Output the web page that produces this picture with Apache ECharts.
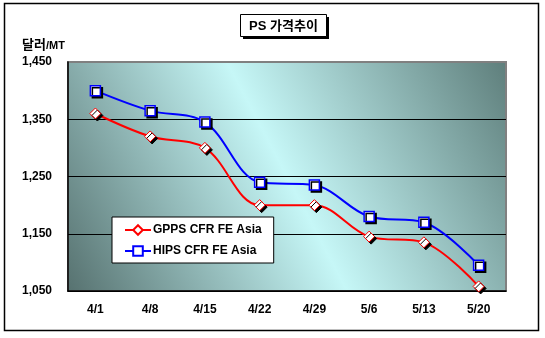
<!DOCTYPE html>
<html><head><meta charset="utf-8">
<script src="https://cdn.jsdelivr.net/npm/echarts@6/dist/echarts.min.js"></script>
<style>html,body{margin:0;padding:0;background:#fff}#c{width:545px;height:338px}</style>
</head><body><div id="c"></div>
<script>
var categories = ['4/1','4/8','4/15','4/22','4/29','5/6','5/13','5/20'];
var gpps = [1360, 1320, 1300, 1200, 1200, 1145, 1135, 1058];
var hips = [1400, 1365, 1345, 1240, 1235, 1180, 1170, 1095];
var seriesNames = ['GPPS CFR FE Asia', 'HIPS CFR FE Asia'];
var yTicks = [1050, 1150, 1250, 1350, 1450];

var chart = echarts.init(document.getElementById('c'));
var font = 'Arial, "Liberation Sans", "Noto Sans CJK KR", sans-serif';
var markerShadow = {shadowColor:'#000', shadowOffsetX:2, shadowOffsetY:2, shadowBlur:0};
chart.setOption({
  animation:false,
  textStyle:{fontFamily:font},
  graphic:[
    {type:'rect', shape:{x:4.5,y:3.5,width:534,height:327}, style:{fill:'none',stroke:'#000',lineWidth:1.5}, z:-1},
    {type:'rect', shape:{x:243,y:17,width:86,height:22}, style:{fill:'#000'}, z:1},
    {type:'rect', shape:{x:240.5,y:14.5,width:86,height:22}, style:{fill:'#fff',stroke:'#000',lineWidth:1}, z:2},
    {type:'text', x:283.5, y:26, style:{text:'PS 가격추이', fill:'#000', font:'bold 13px ' + font, align:'center', verticalAlign:'middle'}, z:3}
  ],
  grid:{left:68, right:39, top:62, bottom:47, show:true, borderColor:'#808080', borderWidth:2,
    backgroundColor:{type:'linear', x:0, y:1, x2:1, y2:0, colorStops:[
      {offset:0, color:'#56716f'},
      {offset:0.5, color:'#c6f7f7'},
      {offset:1, color:'#5e7e7b'}]}},
  legend:{
    orient:'vertical', left:112, top:217,
    backgroundColor:'#fff', borderColor:'#000', borderWidth:1,
    padding:[7,12,6,12], itemWidth:26, itemHeight:12, itemGap:9,
    textStyle:{fontFamily:font, fontWeight:'bold', fontSize:12, color:'#000', padding:[0,0,0,-3]},
    data:seriesNames
  },
  xAxis:{type:'category', data:categories, boundaryGap:true,
    axisLine:{lineStyle:{color:'#000', width:1.5}},
    axisTick:{inside:true, length:4, lineStyle:{color:'#000'}},
    axisLabel:{color:'#000', fontWeight:'bold', fontSize:12, margin:13, fontFamily:font}},
  yAxis:{type:'value', min:1050, max:1450, interval:100,
    name:'{a|달러}{b|/MT}', nameLocation:'end', nameGap:10,
    nameTextStyle:{align:'left', padding:[0,0,0,-46], rich:{
      a:{fontSize:13, fontWeight:'bold', color:'#000', fontFamily:font},
      b:{fontSize:11, fontWeight:'bold', color:'#000', fontFamily:font}}},
    axisLine:{show:true, lineStyle:{color:'#000', width:1.5}},
    axisTick:{show:false},
    splitLine:{lineStyle:{color:['#000','#000','#000','#000','#808080'], width:1}},
    axisLabel:{color:'#000', fontWeight:'bold', fontSize:12, margin:16, fontFamily:font,
      formatter:function(v){return yTicks.indexOf(v)>=0 ? v.toLocaleString('en-US') : '';}}},
  series:[
    {name:seriesNames[0], type:'line', data:gpps, smooth:0.35, symbol:'diamond', symbolSize:11,
      lineStyle:{color:'#ff0000', width:2}, itemStyle:Object.assign({color:'#fff', borderColor:'#ff0000', borderWidth:1}, markerShadow), color:'#ff0000'},
    {name:seriesNames[1], type:'line', data:hips, smooth:0.35, symbol:'rect', symbolSize:10,
      lineStyle:{color:'#0000ff', width:2}, itemStyle:Object.assign({color:'#fff', borderColor:'#0000ff', borderWidth:1.5}, markerShadow), color:'#0000ff'}
  ]
});
</script></body></html>
